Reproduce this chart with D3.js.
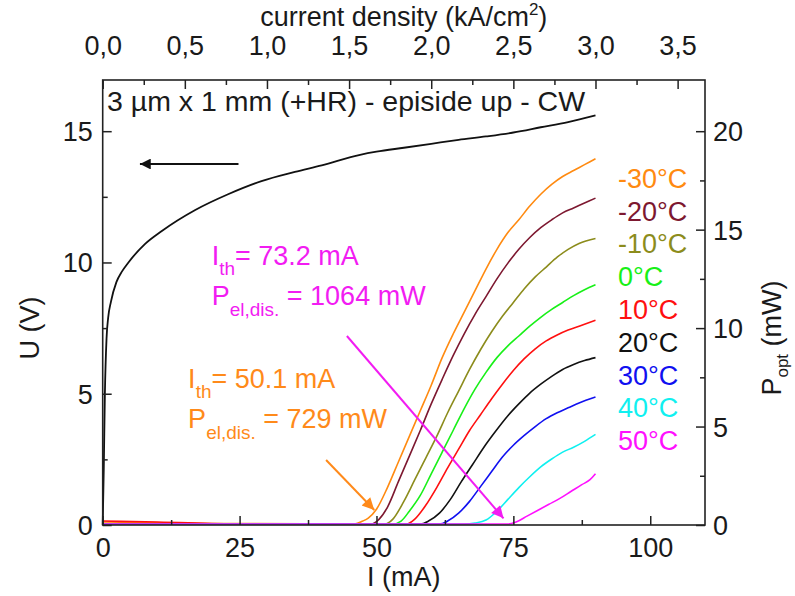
<!DOCTYPE html>
<html><head><meta charset="utf-8">
<script src="https://cdn.jsdelivr.net/npm/d3@7/dist/d3.min.js"></script>
<style>
html,body{margin:0;padding:0;background:#fff;}
svg text{font-family:"Liberation Sans",Arial,sans-serif;}
</style></head>
<body><svg id="c" width="795" height="596"></svg>
<script>
// ---------- data ----------
const currentTicks = [0, 25, 50, 75, 100];
const currentMinor = [12.5, 37.5, 62.5, 87.5];
const densityTicks = [0, 0.5, 1.0, 1.5, 2.0, 2.5, 3.0, 3.5];
const densityMinor = [0.25, 0.75, 1.25, 1.75, 2.25, 2.75, 3.25];
const voltTicks = [0, 5, 10, 15];
const voltMinor = [2.5, 7.5, 12.5];
const powerTicks = [0, 5, 10, 15, 20];
const powerMinor = [2.5, 7.5, 12.5, 17.5];

const temperatures = ["-30°C", "-20°C", "-10°C", "0°C", "10°C", "20°C", "30°C", "40°C", "50°C"];

// U-I curve: [I (mA), U (V)]
const voltageCurve = [[0,0],[0.2,2.2],[0.4,5.0],[0.7,7.1],[1.0,7.9],[1.5,8.5],[2.5,9.25],[3.5,9.65],[4.7,10.0],[7.7,10.7],[10.8,11.2],[16.9,12.0],[22.9,12.6],[29,13.1],[35.1,13.45],[40,13.7],[47,14.1],[50,14.22],[55,14.37],[60,14.52],[65,14.67],[70,14.8],[75,14.95],[80,15.15],[85,15.35],[90,15.6]];

// P-I curves: [I (mA), P_opt (mW)]
const pM30 = [[0,0.15],[20,0.08],[46,0.05],[47.5,0.2],[48.5,0.35],[50,0.8],[52,1.9],[54,3.2],[56,4.5],[58,5.8],[60,7.1],[62,8.5],[64,9.7],[66,10.8],[68,11.9],[70,13.0],[72,14.0],[74,14.85],[76,15.5],[78,16.2],[80,16.8],[82,17.3],[84,17.7],[86,18.0],[88,18.3],[90,18.6]];
const pM20 = [[0,0.05],[49,0.05],[50.5,0.3],[52,0.9],[54,2.2],[56,3.5],[58,4.8],[60,6.15],[62,7.4],[64,8.6],[66,9.7],[68,10.7],[70,11.6],[72,12.5],[74,13.3],[76,14.0],[78,14.6],[80,15.1],[82,15.5],[84,15.85],[86,16.1],[88,16.35],[90,16.6]];
const pM10 = [[0,0.05],[51.5,0.05],[53,0.3],[55,1.2],[57,2.3],[59,3.4],[61,4.5],[63,5.7],[65,6.8],[67,7.9],[69,8.9],[71,9.8],[73,10.6],[75,11.3],[77,12.0],[79,12.6],[81,13.1],[83,13.6],[85,14.0],[87,14.3],[90,14.55]];
const p0 = [[0,0.05],[53,0.05],[54.5,0.2],[56,0.7],[58,1.5],[60,2.6],[62,3.7],[64,4.8],[66,5.9],[68,6.9],[70,7.75],[72,8.5],[74,9.1],[76,9.6],[78,10.1],[80,10.55],[82,10.95],[84,11.3],[86,11.65],[88,11.95],[90,12.2]];
const p10 = [[0,0.2],[10,0.15],[25,0.05],[55.5,0.05],[57,0.3],[59,1.0],[61,1.9],[63,2.9],[65,3.85],[67,4.8],[69,5.6],[71,6.4],[73,7.15],[75,7.85],[77,8.45],[79,8.95],[81,9.35],[83,9.65],[85,9.9],[87,10.1],[90,10.4]];
const p20 = [[0,0.05],[58,0.05],[59.5,0.2],[61.5,0.6],[63.5,1.3],[65.5,2.2],[67.5,3.05],[70,4.1],[72,4.85],[74,5.55],[76,6.15],[78,6.7],[80,7.15],[82,7.55],[84,7.9],[86,8.15],[88,8.35],[90,8.5]];
const p30 = [[0,0.05],[61.5,0.05],[63,0.2],[65,0.6],[67,1.2],[69,1.95],[71,2.7],[73,3.45],[75,4.05],[77,4.55],[79,5.0],[81,5.4],[83,5.7],[85,5.95],[87,6.2],[90,6.5]];
const p40 = [[0,0.05],[66,0.05],[68,0.1],[70,0.25],[72,0.7],[74,1.3],[76,1.9],[78,2.45],[80,2.95],[82,3.35],[84,3.7],[86,3.95],[88,4.25],[90,4.6]];
const p50 = [[0,0.05],[74,0.05],[75.5,0.15],[77.5,0.45],[79.5,0.75],[81.5,1.05],[83.5,1.35],[85.5,1.7],[87.5,2.05],[89,2.3],[90,2.6]];
const powerSeries = [pM30, pM20, pM10, p0, p10, p20, p30, p40, p50];

// ---------- styles ----------
const colors = ["#ff8a10", "#7d1830", "#8c8c1c", "#18f018", "#ff1010", "#111111", "#1010f0", "#10f0f0", "#ff10ff"];
const FONT = 27;

const svg = d3.select("#c");
const L = 102.7, R = 705, T = 80, B = 525;

const x = d3.scaleLinear().domain([0, 110]).range([L, R]);
const xJ = d3.scaleLinear().domain([0, 110 / 30]).range([L, R]);
const yU = d3.scaleLinear().domain([0, 16.95]).range([B, T]);
const yP = d3.scaleLinear().domain([0, 22.6]).range([B, T]);

// curves
const lineP = d3.line().x(d => x(d[0])).y(d => yP(d[1])).curve(d3.curveMonotoneX);
const lineU = d3.line().x(d => x(d[0])).y(d => yU(d[1])).curve(d3.curveMonotoneX);
const gCurves = svg.append("g");
powerSeries.forEach((s, i) => {
  gCurves.append("path").attr("d", lineP(s)).attr("fill", "none")
    .attr("stroke", colors[i]).attr("stroke-width", 1.6).attr("stroke-linejoin", "round");
});
gCurves.append("path").attr("d", lineU(voltageCurve)).attr("fill", "none")
  .attr("stroke", "#111").attr("stroke-width", 1.8);

// axes helper
function styleAxis(g) {
  g.select(".domain").remove();
  g.selectAll("line").attr("stroke", "#222").attr("stroke-width", 1.5);
  g.selectAll("text").attr("font-size", FONT).attr("fill", "#1a1a1a")
    .attr("font-family", "Liberation Sans, Arial, sans-serif");
}
// bottom
let g = svg.append("g").attr("transform", `translate(0,${B})`)
  .call(d3.axisBottom(x).tickValues(currentTicks).tickSize(-9).tickFormat(d3.format("d")));
styleAxis(g); g.selectAll("text").attr("y", 32).attr("dy", null);
g = svg.append("g").attr("transform", `translate(0,${B})`)
  .call(d3.axisBottom(x).tickValues(currentMinor).tickSize(-5).tickFormat(""));
styleAxis(g);
// top
g = svg.append("g").attr("transform", `translate(0,${T})`)
  .call(d3.axisTop(xJ).tickValues(densityTicks).tickSize(-9).tickFormat(d => d.toFixed(1).replace(".", ",")));
styleAxis(g); g.selectAll("text").attr("y", -25).attr("dy", null);
g = svg.append("g").attr("transform", `translate(0,${T})`)
  .call(d3.axisTop(xJ).tickValues(densityMinor).tickSize(-5).tickFormat(""));
styleAxis(g);
// left
g = svg.append("g").attr("transform", `translate(${L},0)`)
  .call(d3.axisLeft(yU).tickValues(voltTicks).tickSize(-9).tickFormat(d3.format("d")));
styleAxis(g); g.selectAll("text").attr("x", -10).attr("dy", "0.35em");
g = svg.append("g").attr("transform", `translate(${L},0)`)
  .call(d3.axisLeft(yU).tickValues(voltMinor).tickSize(-5).tickFormat(""));
styleAxis(g);
// right
g = svg.append("g").attr("transform", `translate(${R},0)`)
  .call(d3.axisRight(yP).tickValues(powerTicks).tickSize(-9).tickFormat(d3.format("d")));
styleAxis(g); g.selectAll("text").attr("x", 8).attr("dy", "0.35em");
g = svg.append("g").attr("transform", `translate(${R},0)`)
  .call(d3.axisRight(yP).tickValues(powerMinor).tickSize(-5).tickFormat(""));
styleAxis(g);

// frame
svg.append("rect").attr("x", L).attr("y", T).attr("width", R - L).attr("height", B - T)
  .attr("fill", "none").attr("stroke", "#222").attr("stroke-width", 1.6);

// axis titles
svg.append("text").attr("x", (L + R) / 2).attr("y", 586).attr("text-anchor", "middle")
  .attr("font-size", FONT).attr("fill", "#1a1a1a").text("I (mA)");
const tt = svg.append("text").attr("x", (L + R) / 2).attr("y", 26).attr("text-anchor", "middle")
  .attr("font-size", FONT).attr("fill", "#1a1a1a");
tt.append("tspan").text("current density (kA/cm");
tt.append("tspan").attr("font-size", 17).attr("dy", -11).text("2");
tt.append("tspan").attr("dy", 11).text(")");
svg.append("text").attr("transform", "translate(39,328) rotate(-90)").attr("text-anchor", "middle")
  .attr("font-size", FONT).attr("fill", "#1a1a1a").text("U (V)");
const rt = svg.append("text").attr("transform", "translate(781,338) rotate(-90)").attr("text-anchor", "middle")
  .attr("font-size", FONT).attr("fill", "#1a1a1a");
rt.append("tspan").text("P");
rt.append("tspan").attr("font-size", 17).attr("dy", 7).text("opt");
rt.append("tspan").attr("dy", -7).text(" (mW)");

// box title
svg.append("text").attr("x", 107).attr("y", 111).attr("font-size", 28.5).attr("fill", "#1a1a1a")
  .text("3 µm x 1 mm (+HR) - episide up - CW");

// legend (temperature labels)
const legendTop = 178.3, legendStep = 32.8;
temperatures.forEach((t, i) => {
  svg.append("text").attr("x", 618).attr("y", legendTop + i * legendStep).attr("dy", "0.35em")
    .attr("font-size", FONT).attr("fill", colors[i]).text(t);
});

// arrows
const defs = svg.append("defs");
function marker(id, col) {
  defs.append("marker").attr("id", id).attr("viewBox", "0 0 10 10").attr("refX", 10).attr("refY", 5)
    .attr("markerWidth", 7).attr("markerHeight", 6).attr("markerUnits", "strokeWidth").attr("orient", "auto")
    .append("path").attr("d", "M0,0 L10,5 L0,10 Z").attr("fill", col);
}
marker("mk", "#111"); marker("mm", "#f21cf2"); marker("mo", "#ff8a1a");
// voltage arrow (pointing to left axis)
svg.append("line").attr("x1", x(24.8)).attr("y1", yU(13.75)).attr("x2", x(6.8)).attr("y2", yU(13.75))
  .attr("stroke", "#111").attr("stroke-width", 1.8).attr("marker-end", "url(#mk)");
// threshold arrows
svg.append("line").attr("x1", x(44.6)).attr("y1", yP(9.6)).attr("x2", x(73.2)).attr("y2", yP(0.34))
  .attr("stroke", "#f21cf2").attr("stroke-width", 2).attr("marker-end", "url(#mm)");
svg.append("line").attr("x1", x(40.8)).attr("y1", yP(3.3)).attr("x2", x(49.6)).attr("y2", yP(0.76))
  .attr("stroke", "#ff8a1a").attr("stroke-width", 2).attr("marker-end", "url(#mo)");

// annotation texts
function rich(px, py, parts, col) {
  const t = svg.append("text").attr("x", x(px)).attr("y", yP(py)).attr("font-size", FONT).attr("fill", col);
  parts.forEach(p => {
    if (p.sub) t.append("tspan").attr("font-size", 19).attr("dy", p.dy).text(p.t);
    else t.append("tspan").attr("dy", p.dy || 0).text(p.t);
  });
}
rich(19.9, 13.2, [{t: "I"}, {t: "th", sub: true, dy: 10}, {t: "= 73.2 mA", dy: -10}], "#f21cf2");
rich(19.9, 11.17, [{t: "P"}, {t: "el,dis.", sub: true, dy: 11}, {t: " = 1064 mW", dy: -11}], "#f21cf2");
rich(15.6, 6.95, [{t: "I"}, {t: "th", sub: true, dy: 10}, {t: "= 50.1 mA", dy: -10}], "#ff8a1a");
rich(15.6, 4.92, [{t: "P"}, {t: "el,dis.", sub: true, dy: 11}, {t: " = 729 mW", dy: -11}], "#ff8a1a");
</script></body></html>
